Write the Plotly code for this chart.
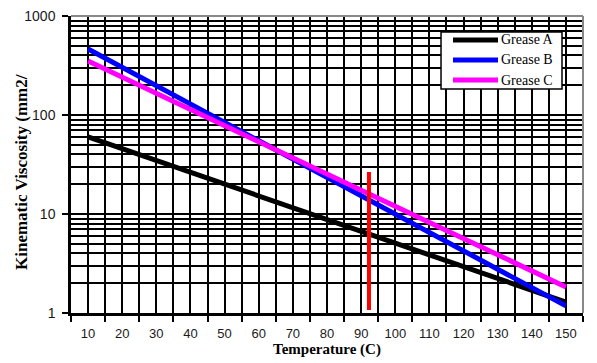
import plotly.graph_objects as go

temps = [10, 150]
grease_a = [60, 1.29]
grease_b = [464, 1.18]
grease_c = [351, 1.83]
marker_t = [92.3, 92.3]
marker_v = [1.07, 26.5]

series_names = ["Grease A", "Grease B", "Grease C"]
series_colors = ["black", "#0000ff", "#ff00ff"]

x_labels = list(range(10, 151, 10))
x_bounds = list(range(5, 156, 10))
y_major = [1, 10, 100, 1000]
y_minor = [m * d for d in (1, 10, 100) for m in range(2, 10)]

fig = go.Figure()
for name, vals, col in zip(series_names, [grease_a, grease_b, grease_c], series_colors):
    fig.add_trace(go.Scatter(x=temps, y=vals, mode="lines", name=name,
                             showlegend=False, line=dict(color=col, width=5)))
fig.add_trace(go.Scatter(x=marker_t, y=marker_v, mode="lines", showlegend=False,
                         line=dict(color="#ff0000", width=4)))

# legend box drawn in paper coordinates (boxed, long line samples as in the original)
legend_shapes = [dict(type="rect", xref="paper", yref="paper",
                      x0=0.7227, x1=0.9590, y0=0.7542, y1=0.9461,
                      fillcolor="white", line=dict(color="black", width=1.5), layer="above")]
legend_texts = []
row_y = [0.9192, 0.8519, 0.7845]
for name, col, ry in zip(series_names, series_colors, row_y):
    legend_shapes.append(dict(type="line", xref="paper", yref="paper",
                              x0=0.7461, x1=0.8340, y0=ry, y1=ry,
                              line=dict(color=col, width=5), layer="above"))
    legend_texts.append(dict(text=name, xref="paper", yref="paper", x=0.8355, y=ry,
                             xanchor="left", yanchor="middle", showarrow=False,
                             font=dict(family="Liberation Serif, Times New Roman",
                                       size=14, color="black")))

# the browser page has an 8px body margin, so the figure is sized to fit inside it
fig.update_layout(
    width=589, height=355,
    margin=dict(l=63, r=14, t=8, b=50),
    paper_bgcolor="white", plot_bgcolor="white",
    showlegend=False,
    xaxis=dict(
        range=[5, 155], tickvals=x_labels, ticktext=[str(v) for v in x_labels],
        ticks="", showgrid=True, gridcolor="black", gridwidth=1.5, automargin=False,
        showline=True, linecolor="black", linewidth=2.5, zeroline=False,
        tickfont=dict(family="Liberation Sans, Arial", size=13, color="#1a1a1a"),
        ticklabelstandoff=7,
        minor=dict(tickvals=x_bounds, ticks="outside", ticklen=6, tickwidth=2,
                   tickcolor="black", showgrid=True, gridcolor="black", gridwidth=1.5),
        title=dict(text="<b>Temperature (C)</b>", standoff=3,
                   font=dict(family="Liberation Serif, Times New Roman", size=15, color="black")),
    ),
    yaxis=dict(
        type="log", range=[0, 3], tickvals=y_major, ticktext=[str(v) for v in y_major],
        ticks="outside", ticklen=6, tickwidth=2, tickcolor="black", automargin=False,
        showgrid=True, gridcolor="black", gridwidth=1.5,
        showline=True, linecolor="black", linewidth=2.5, zeroline=False,
        tickfont=dict(family="Liberation Sans, Arial", size=14, color="#1a1a1a"),
        ticklabelstandoff=4, ticklabeloverflow="allow",
        minor=dict(tickvals=y_minor, ticks="", showgrid=True, gridcolor="black", gridwidth=1.5),
    ),
    annotations=[
        dict(text="<b>Kinematic Viscosity (mm2/</b>", textangle=-90,
             xref="paper", yref="paper", x=-0.0977, y=0.4747,
             xanchor="center", yanchor="middle", showarrow=False,
             font=dict(family="Liberation Serif, Times New Roman", size=17, color="black")),
    ] + legend_texts,
    shapes=[
        dict(type="line", xref="paper", yref="paper", x0=0, x1=1, y0=1, y1=1,
             line=dict(color="#888888", width=2)),
        dict(type="line", xref="paper", yref="paper", x0=1, x1=1, y0=0, y1=1,
             line=dict(color="#888888", width=2)),
    ] + legend_shapes,
)

fig.write_html("out.html")
